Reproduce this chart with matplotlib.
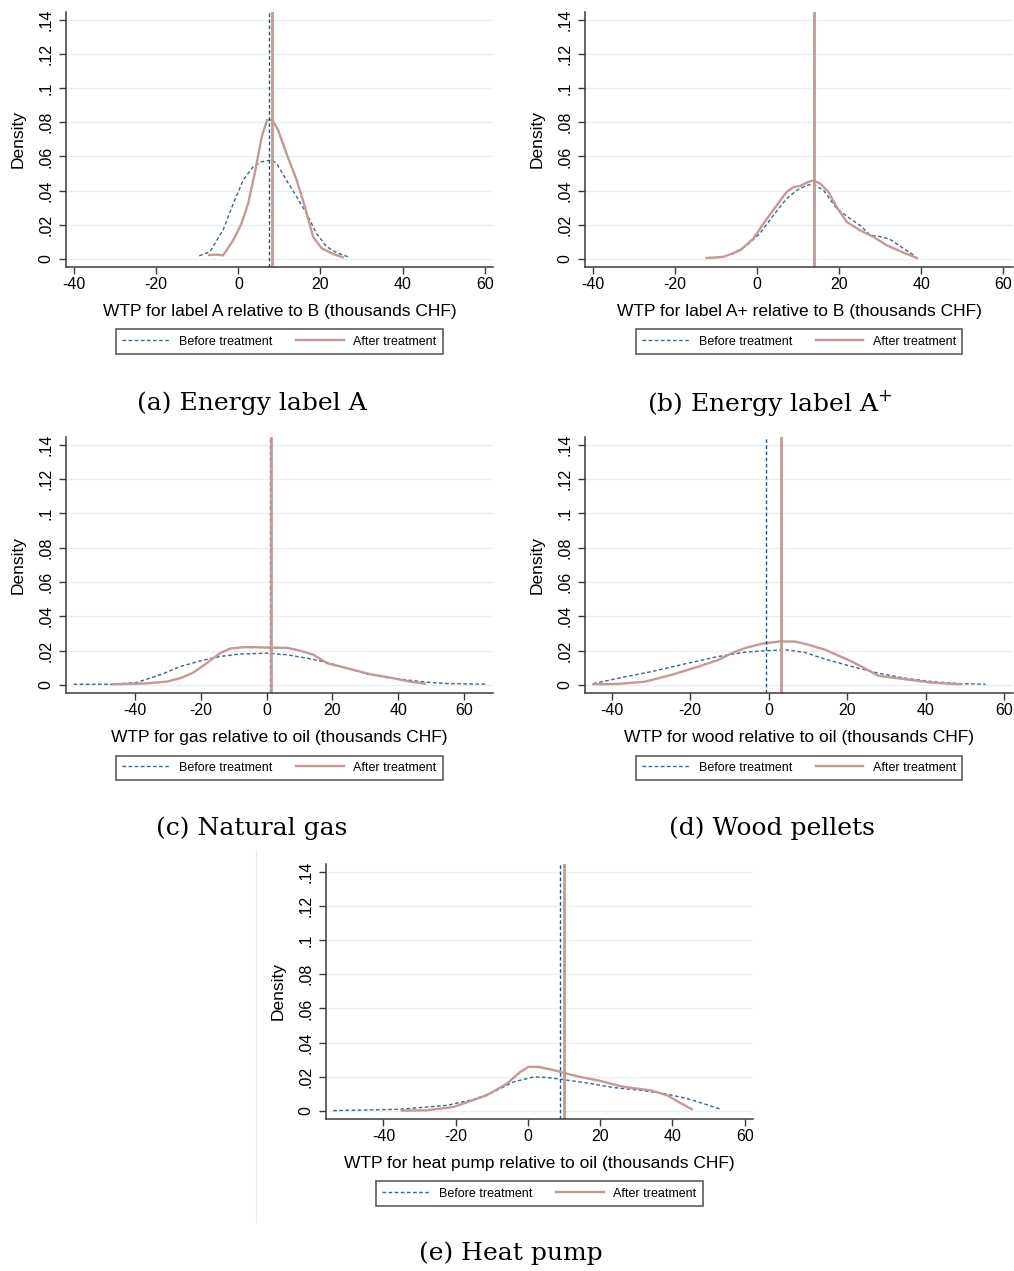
import matplotlib
matplotlib.use("Agg")
import matplotlib.pyplot as plt
from matplotlib.lines import Line2D

plt.rcParams['font.family'] = ['Liberation Sans', 'DejaVu Sans']
plt.rcParams['axes.unicode_minus'] = False

# (a) label A relative to B
a_before_x = [-9.5, -6.9, -3.7, -1.2, 1.2, 3.6, 5.7, 8.1, 9.3, 11.7, 14.2, 16.6, 19.0, 21.5, 23.9, 26.7]
a_before_y = [0.0018, 0.0043, 0.017, 0.0326, 0.0462, 0.054, 0.0569, 0.0579, 0.056, 0.0462, 0.0364,
              0.0267, 0.015, 0.0072, 0.0037, 0.0013]
a_after_x = [-7.1, -5.5, -3.7, -1.2, 0.8, 2.4, 4.0, 5.7, 7.0, 8.3, 9.7, 11.7, 14.2, 16.2, 18.2, 20.3,
             23.1, 25.4]
a_after_y = [0.0023, 0.0026, 0.0021, 0.0111, 0.0209, 0.0326, 0.0501, 0.0715, 0.0813, 0.0813, 0.0754,
             0.0618, 0.0462, 0.0306, 0.013, 0.0062, 0.0029, 0.001]
a_means = [7.5, 8.3]

# (b) label A+ relative to B
b_before_x = [-6.2, -2.5, 0.7, 4.0, 7.2, 9.7, 12.1, 13.7, 16.2, 19.4, 22.7, 25.1, 27.6, 30.4, 32.4,
              35.7, 38.5]
b_before_y = [0.0026, 0.008, 0.0149, 0.0256, 0.0353, 0.0402, 0.0431, 0.0437, 0.0402, 0.0295, 0.0236,
              0.0197, 0.0139, 0.0129, 0.0115, 0.0061, 0.0018]
b_after_x = [-12.3, -8.2, -4.1, -0.9, 2.4, 4.8, 7.2, 8.9, 10.5, 12.1, 13.7, 15.4, 17.4, 19.4, 21.9,
             25.1, 28.4, 31.6, 35.7, 39.0]
b_after_y = [0.0006, 0.0012, 0.0051, 0.0119, 0.0236, 0.0314, 0.0392, 0.0421, 0.0427, 0.0447, 0.046,
             0.0441, 0.0392, 0.0304, 0.0216, 0.0168, 0.0129, 0.008, 0.0037, 0.0006]
b_means = [13.8, 13.9]

# (c) gas relative to oil
c_before_x = [-58.7, -46.6, -39.5, -32.4, -26.3, -20.2, -14.2, -8.1, 0.0, 6.1, 12.2, 18.3, 24.3, 30.4,
              36.5, 42.6, 48.7, 54.7, 66.9]
c_before_y = [0.0004, 0.0004, 0.0014, 0.0059, 0.0107, 0.014, 0.0166, 0.018, 0.0185, 0.0176, 0.0156,
              0.0131, 0.0098, 0.0064, 0.0043, 0.0029, 0.0016, 0.0008, 0.0004]
c_after_x = [-46.6, -37.5, -30.4, -26.3, -22.3, -18.2, -14.2, -11.1, -7.1, -4.0, 0.0, 6.1, 9.1, 14.2,
             18.3, 26.4, 31.4, 38.5, 43.6, 48.1]
c_after_y = [0.0004, 0.0008, 0.0019, 0.0039, 0.0072, 0.0127, 0.0185, 0.0212, 0.022, 0.022, 0.0218,
             0.0216, 0.0205, 0.0176, 0.0127, 0.0088, 0.0063, 0.0039, 0.0019, 0.0008]
c_means = [1.0, 1.3]

# (d) wood relative to oil
d_before_x = [-44.7, -38.3, -29.8, -21.3, -12.8, -6.0, -0.9, 4.2, 9.3, 14.4, 21.2, 28.0, 34.8, 41.6,
              48.4, 55.2]
d_before_y = [0.0008, 0.0039, 0.0078, 0.0123, 0.0166, 0.0191, 0.0199, 0.0205, 0.0189, 0.015, 0.0107,
              0.0068, 0.0039, 0.0019, 0.0008, 0.0004]
d_after_x = [-44.7, -38.3, -31.5, -24.7, -17.9, -12.8, -9.4, -6.0, -1.8, 2.5, 6.7, 10.1, 14.4, 21.2,
             28.0, 34.8, 41.6, 48.8]
d_after_y = [0.0004, 0.0006, 0.0019, 0.0059, 0.0107, 0.0146, 0.0185, 0.0215, 0.024, 0.0253, 0.0253,
             0.0234, 0.0205, 0.0136, 0.0053, 0.0033, 0.0013, 0.0004]
d_means = [-0.75, 3.1]

# (e) heat pump relative to oil
e_before_x = [-53.9, -35.4, -22.4, -15.1, -9.5, -4.0, 1.6, 5.3, 8.9, 16.3, 23.7, 31.1, 37.6, 44.0,
              48.6, 53.7]
e_before_y = [0.0002, 0.001, 0.0033, 0.0067, 0.0111, 0.017, 0.0199, 0.0196, 0.0186, 0.0164, 0.0137,
              0.0121, 0.0102, 0.0073, 0.0043, 0.0008]
e_after_x = [-34.9, -28.0, -20.6, -11.4, -5.8, -2.1, 0.2, 2.9, 7.1, 9.9, 14.5, 20.0, 25.6, 29.3, 33.9,
             38.5, 42.2, 45.4]
e_after_y = [0.0002, 0.0004, 0.0023, 0.0092, 0.016, 0.0229, 0.0258, 0.0258, 0.0239, 0.0223, 0.0199,
             0.0176, 0.0145, 0.0133, 0.0121, 0.0092, 0.0047, 0.001]
e_means = [8.75, 9.9]

x_ticks = [-40, -20, 0, 20, 40, 60]
y_ticks = [0, 0.02, 0.04, 0.06, 0.08, 0.1, 0.12, 0.14]
y_tick_labels = ['0', '.02', '.04', '.06', '.08', '.1', '.12', '.14']
legend_labels = ['Before treatment', 'After treatment']

BEFORE = '#3a6687'
AFTER = '#c29a96'
AXCOL = '#3a3a3a'
W, H = 1014, 1271


def draw_panel(box, xlim, bx, by, afx, afy, means, xlabel, caption, cap_xy):
    left, top, right, bottom = box
    ax = fig.add_axes([left / W, 1 - bottom / H, (right - left) / W, (bottom - top) / H])
    for y in y_ticks:
        ax.axhline(y, color='#e6eff1', lw=1.0, zorder=0)
    ax.plot(bx, by, color=BEFORE, lw=1.0, ls=(0, (2.6, 1.8)), label=legend_labels[0])
    ax.plot(afx, afy, color=AFTER, lw=1.7, label=legend_labels[1])
    ax.axvline(means[0], color='#2b5273', lw=1.0, ls=(0, (2.6, 1.8)))
    ax.axvline(means[1], color=AFTER, lw=2.0)
    ax.set_xlim(*xlim)
    ax.set_ylim(-0.0047, 0.1445)
    ax.set_xticks(x_ticks)
    ax.set_yticks(y_ticks)
    ax.set_yticklabels(y_tick_labels, rotation=90, va='center')
    for s in ['top', 'right']:
        ax.spines[s].set_visible(False)
    for s in ['left', 'bottom']:
        ax.spines[s].set_color(AXCOL)
        ax.spines[s].set_linewidth(1.1)
    ax.tick_params(colors=AXCOL, labelcolor='black', length=5, width=1.0, labelsize=11.5)
    ax.tick_params(axis='y', pad=4)
    ax.tick_params(axis='x', pad=2)
    ax.set_xlabel(xlabel, fontsize=12.5, labelpad=9)
    ax.set_ylabel('Density', fontsize=12.5, labelpad=9)
    leg = ax.legend(loc='upper center', bbox_to_anchor=(0.5, -0.22), ncol=2, fontsize=9,
                    frameon=True, fancybox=False, edgecolor='#333333', handlelength=3.8,
                    handletextpad=0.75, columnspacing=1.9, borderpad=0.5)
    leg.get_frame().set_linewidth(1.2)
    fig.text(cap_xy[0] / W, 1 - cap_xy[1] / H, caption, family='DejaVu Serif', fontsize=18,
             ha='center', va='center')
    return ax


fig = plt.figure(figsize=(W / 100, H / 100), dpi=100)

draw_panel((66, 12, 493, 267), (-41.95, 62.0), a_before_x, a_before_y, a_after_x, a_after_y, a_means,
           'WTP for label A relative to B (thousands CHF)', '(a) Energy label A', (252, 403))
draw_panel((585, 12, 1013, 267), (-41.95, 62.4), b_before_x, b_before_y, b_after_x, b_after_y, b_means,
           'WTP for label A+ relative to B (thousands CHF)', '(b) Energy label A$^{+}$', (770, 403))
draw_panel((66, 437, 493, 693), (-61.0, 68.8), c_before_x, c_before_y, c_after_x, c_after_y, c_means,
           'WTP for gas relative to oil (thousands CHF)', '(c) Natural gas', (252, 828))
draw_panel((585, 437, 1013, 693), (-46.8, 62.2), d_before_x, d_before_y, d_after_x, d_after_y, d_means,
           'WTP for wood relative to oil (thousands CHF)', '(d) Wood pellets', (772, 828))
draw_panel((326, 864, 753, 1119), (-55.9, 62.3), e_before_x, e_before_y, e_after_x, e_after_y, e_means,
           'WTP for heat pump relative to oil (thousands CHF)', '(e) Heat pump', (511, 1253))

# faint frame edge left of the last panel
fig.add_artist(Line2D([255.5 / W, 255.5 / W], [1 - 850 / H, 1 - 1222 / H], color='#ececec', lw=0.8))

fig.savefig('out.png', dpi=100)
